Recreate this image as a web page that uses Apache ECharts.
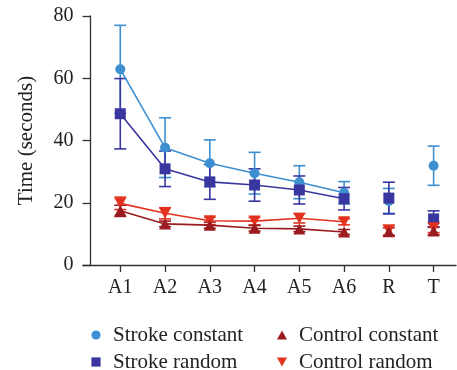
<!DOCTYPE html>
<html>
<head>
<meta charset="utf-8">
<script src="https://cdn.jsdelivr.net/npm/echarts@6/dist/echarts.min.js"></script>
<style>html,body{margin:0;padding:0;background:#fff;}#c{width:457px;height:370px;}</style>
</head>
<body>
<div id="c"></div>
<script>
const categories = ['A1','A2','A3','A4','A5','A6','R','T'];
const yTicks = [0, 20, 40, 60, 80];
const strokeConstMean = [62.9, 37.7, 32.7, 29.5, 26.6, 23.2, 20.6, 31.9];
const strokeConstSD   = [14.1, 9.6, 7.5, 6.7, 5.3, 3.6, 4.0, 6.3];
const strokeRandMean  = [48.6, 30.9, 26.7, 25.7, 24.1, 21.3, 21.5, 14.8];
const strokeRandSD    = [11.3, 5.7, 5.6, 5.2, 4.5, 3.6, 5.1, 2.6];
const ctrlConstMean   = [17.4, 13.2, 12.8, 11.8, 11.6, 10.6, 10.7, 10.9];
const ctrlConstSD     = [1.8, 0.9, 1.0, 0.9, 0.9, 0.8, 1.3, 1.2];
const ctrlRandMean    = [19.8, 16.6, 14.2, 14.1, 15.0, 13.9, 11.2, 12.0];
const ctrlRandSD      = [2.0, 1.8, 1.2, 1.2, 1.5, 1.0, 1.6, 1.6];

const nLine = 6; // A1..A6 connected, R and T stand alone
const FONT = 'Liberation Serif';
const downTri = 'path://M0,0 L10,0 L5,9 Z';
const upTri = 'path://M5,0 L10,9 L0,9 Z';

const groups = [
  {name:'Stroke constant', mean:strokeConstMean, sd:strokeConstSD, color:'#3d8fd1', symbol:'circle', size:10, cap:6, lx:96, ly:335},
  {name:'Stroke random', mean:strokeRandMean, sd:strokeRandSD, color:'#3a36a0', symbol:'rect', size:11, cap:6, lx:96, ly:362},
  {name:'Control random', mean:ctrlRandMean, sd:ctrlRandSD, color:'#e2321f', symbol:downTri, size:[12,11], cap:6, lx:282, ly:362},
  {name:'Control constant', mean:ctrlConstMean, sd:ctrlConstSD, color:'#9a1c20', symbol:upTri, size:[12,11], cap:6, lx:282, ly:335}
];

const series = [];
const graphics = [];
groups.forEach(g => {
  const errData = g.mean.map((m,i) => [i, m - g.sd[i], m + g.sd[i]]);
  series.push({
    name: g.name, type: 'line',
    data: g.mean.slice(0, nLine).map((m,i) => [i, m]),
    symbol: g.symbol, symbolSize: g.size, showSymbol: true,
    lineStyle: {color: g.color, width: 1.6},
    itemStyle: {color: g.color},
    z: 3, animation: false
  });
  series.push({
    name: g.name, type: 'custom', data: errData,
    encode: {x: 0, y: [1,2]},
    itemStyle: {color: g.color},
    renderItem: function(params, api){
      const x = api.value(0);
      const lo = api.coord([x, api.value(1)]);
      const hi = api.coord([x, api.value(2)]);
      const style = {stroke: g.color, lineWidth: 1.6, fill: null};
      return {type:'group', children:[
        {type:'line', shape:{x1:lo[0], y1:lo[1], x2:hi[0], y2:hi[1]}, style:style},
        {type:'line', shape:{x1:lo[0]-g.cap, y1:lo[1], x2:lo[0]+g.cap, y2:lo[1]}, style:style},
        {type:'line', shape:{x1:hi[0]-g.cap, y1:hi[1], x2:hi[0]+g.cap, y2:hi[1]}, style:style}
      ]};
    },
    z: 2, silent: true
  });
  series.push({
    name: g.name, type: 'scatter',
    data: g.mean.slice(nLine).map((m,i) => [i + nLine, m]),
    symbol: g.symbol, symbolSize: g.size,
    itemStyle: {color: g.color, opacity: 1},
    z: 3, animation: false
  });
  // legend entry (icon + label)
  let icon;
  if (g.symbol === 'circle') icon = {type:'circle', shape:{cx:g.lx, cy:g.ly, r:4.6}, style:{fill:g.color}};
  else if (g.symbol === 'rect') icon = {type:'rect', shape:{x:g.lx-4.6, y:g.ly-4.6, width:9.2, height:9.2}, style:{fill:g.color}};
  else if (g.symbol === upTri) icon = {type:'polygon', shape:{points:[[g.lx, g.ly-4.5],[g.lx+5, g.ly+4.5],[g.lx-5, g.ly+4.5]]}, style:{fill:g.color}};
  else icon = {type:'polygon', shape:{points:[[g.lx-5, g.ly-4.5],[g.lx+5, g.ly-4.5],[g.lx, g.ly+4.5]]}, style:{fill:g.color}};
  graphics.push(icon);
  graphics.push({type:'text', x: g.lx + 17, y: g.ly, style:{text: g.name, fill:'#222',
    fontFamily: FONT, fontSize: 21, verticalAlign:'middle', align:'left'}});
});

const option = {
  animation: false,
  textStyle: {fontFamily: FONT},
  grid: {left: 83, right: 1, top: 16, bottom: 105},
  xAxis: {
    type: 'value', min: -0.833, max: 7.5,
    splitLine: {show: false},
    axisLine: {lineStyle: {color: '#333', width: 1.3}},
    axisTick: {show: true, length: 7, customValues: categories.map((c,i)=>i), lineStyle:{color:'#333', width:1.3}},
    axisLabel: {customValues: categories.map((c,i)=>i), formatter: v => categories[Math.round(v)],
      fontFamily: FONT, fontSize: 20, color: '#222', margin: 13}
  },
  yAxis: {
    type: 'value', min: yTicks[0], max: yTicks[yTicks.length-1], interval: 20,
    offset: -7.5,
    axisLine: {show: true, onZero: false, lineStyle: {color: '#333', width: 1.3}},
    axisTick: {show: true, length: 8, lineStyle:{color:'#333', width:1.3}},
    splitLine: {show: false},
    axisLabel: {fontFamily: FONT, fontSize: 20, color: '#222', margin: 17},
    name: 'Time (seconds)', nameLocation: 'middle', nameGap: 54, nameRotate: 90,
    nameTextStyle: {fontFamily: FONT, fontSize: 21, color: '#222'}
  },
  graphic: graphics,
  series: series
};
const chart = echarts.init(document.getElementById('c'), null, {renderer: 'canvas'});
chart.setOption(option);
</script>
</body>
</html>
